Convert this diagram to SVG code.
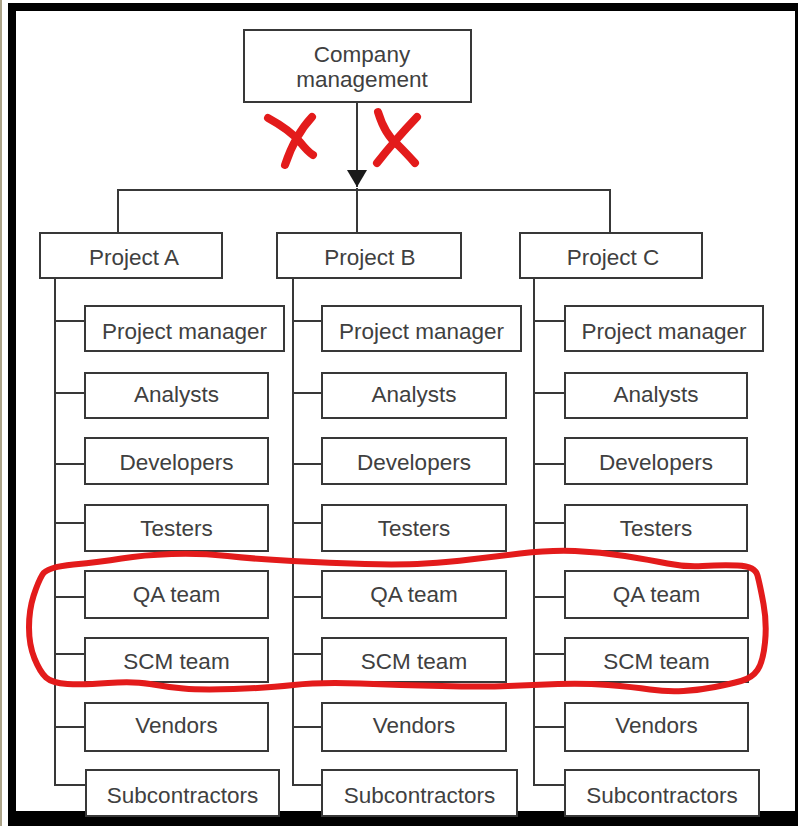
<svg xmlns="http://www.w3.org/2000/svg" width="798" height="826" viewBox="0 0 798 826">
<style>
.box{fill:#fff;stroke:#383838;stroke-width:2}
.lbl{font-family:"Liberation Sans",Arial,sans-serif;font-size:22.5px;fill:#404040;text-anchor:middle}
.con{fill:none;stroke:#383838;stroke-width:2}
.red{fill:none;stroke:#e31b1b;stroke-linecap:round;stroke-linejoin:round}
</style>
<defs>
<marker id="arr" viewBox="0 0 17 20" refX="17" refY="10" markerWidth="17" markerHeight="20" markerUnits="userSpaceOnUse" orient="auto">
<path d="M0,0 L17,10 L0,20 z" fill="#1a1a1a"/>
</marker>
</defs>
<rect x="0" y="0" width="798" height="826" fill="#fff"/>
<line x1="1" y1="0" x2="1" y2="826" stroke="#8f8460" stroke-width="1.5"/>
<path d="M8,3 H798 V826 H8 Z M16,11 V811 H795 V11 Z" fill="#000" fill-rule="evenodd"/>

<g id="connectors">
<path class="con" d="M357,102 V187" marker-end="url(#arr)"/>
<path class="con" d="M118,233 V190 H610 V233 M357,188 V233"/>
<path class="con" d="M55,278 V785 H86 M55,321 H85 M55,393 H85 M55,464 H85 M55,523 H85 M55,597 H85 M55,654 H85 M55,727 H85"/>
<path class="con" d="M293,278 V785 H322 M293,321 H322 M293,393 H322 M293,464 H322 M293,523 H322 M293,597 H322 M293,654 H322 M293,727 H322"/>
<path class="con" d="M534,278 V785 H565 M534,321 H565 M534,393 H565 M534,464 H565 M534,523 H565 M534,597 H565 M534,654 H565 M534,727 H565"/>
</g>

<g id="company"><rect class="box" x="244" y="30" width="227" height="72"/><text class="lbl" x="362" y="62">Company</text><text class="lbl" x="362" y="87">management</text></g>

<g id="projectA"><rect class="box" x="40" y="233" width="182" height="45"/><text class="lbl" x="134" y="265">Project A</text></g>
<g id="projectB"><rect class="box" x="277" y="233" width="184" height="45"/><text class="lbl" x="370" y="265">Project B</text></g>
<g id="projectC"><rect class="box" x="520" y="233" width="182" height="45"/><text class="lbl" x="613" y="265">Project C</text></g>

<g id="A-pm"><rect class="box" x="85" y="306" width="199" height="45"/><text class="lbl" x="184.5" y="339">Project manager</text></g>
<g id="A-analysts"><rect class="box" x="85" y="373" width="183" height="45"/><text class="lbl" x="176.5" y="402">Analysts</text></g>
<g id="A-developers"><rect class="box" x="85" y="438" width="183" height="46"/><text class="lbl" x="176.5" y="470">Developers</text></g>
<g id="A-testers"><rect class="box" x="85" y="505" width="183" height="46"/><text class="lbl" x="176.5" y="536">Testers</text></g>
<g id="A-qa"><rect class="box" x="85" y="571" width="183" height="47"/><text class="lbl" x="176.5" y="602">QA team</text></g>
<g id="A-scm"><rect class="box" x="85" y="638" width="183" height="44"/><text class="lbl" x="176.5" y="669">SCM team</text></g>
<g id="A-vendors"><rect class="box" x="85" y="703" width="183" height="48"/><text class="lbl" x="176.5" y="733">Vendors</text></g>
<g id="A-sub"><rect class="box" x="86" y="770" width="193" height="46"/><text class="lbl" x="182.5" y="803">Subcontractors</text></g>

<g id="B-pm"><rect class="box" x="322" y="306" width="199" height="45"/><text class="lbl" x="421.5" y="339">Project manager</text></g>
<g id="B-analysts"><rect class="box" x="322" y="373" width="184" height="45"/><text class="lbl" x="414" y="402">Analysts</text></g>
<g id="B-developers"><rect class="box" x="322" y="438" width="184" height="46"/><text class="lbl" x="414" y="470">Developers</text></g>
<g id="B-testers"><rect class="box" x="322" y="505" width="184" height="46"/><text class="lbl" x="414" y="536">Testers</text></g>
<g id="B-qa"><rect class="box" x="322" y="571" width="184" height="47"/><text class="lbl" x="414" y="602">QA team</text></g>
<g id="B-scm"><rect class="box" x="322" y="638" width="184" height="44"/><text class="lbl" x="414" y="669">SCM team</text></g>
<g id="B-vendors"><rect class="box" x="322" y="703" width="184" height="48"/><text class="lbl" x="414" y="733">Vendors</text></g>
<g id="B-sub"><rect class="box" x="322" y="770" width="195" height="46"/><text class="lbl" x="419.5" y="803">Subcontractors</text></g>

<g id="C-pm"><rect class="box" x="565" y="306" width="198" height="45"/><text class="lbl" x="664" y="339">Project manager</text></g>
<g id="C-analysts"><rect class="box" x="565" y="373" width="182" height="45"/><text class="lbl" x="656" y="402">Analysts</text></g>
<g id="C-developers"><rect class="box" x="565" y="438" width="182" height="46"/><text class="lbl" x="656" y="470">Developers</text></g>
<g id="C-testers"><rect class="box" x="565" y="505" width="182" height="46"/><text class="lbl" x="656" y="536">Testers</text></g>
<g id="C-qa"><rect class="box" x="565" y="571" width="183" height="47"/><text class="lbl" x="656.5" y="602">QA team</text></g>
<g id="C-scm"><rect class="box" x="565" y="638" width="183" height="44"/><text class="lbl" x="656.5" y="669">SCM team</text></g>
<g id="C-vendors"><rect class="box" x="565" y="703" width="183" height="48"/><text class="lbl" x="656.5" y="733">Vendors</text></g>
<g id="C-sub"><rect class="box" x="565" y="770" width="194" height="46"/><text class="lbl" x="662" y="803">Subcontractors</text></g>

<g id="annotations">
<path class="red" stroke-width="8" d="M268,118 Q290,130 300,142 Q308,152 313,155 M312,117 Q295,135 285,165"/>
<path class="red" stroke-width="8" d="M378,112 Q385,135 398,145 Q408,155 415,163 M417,117 Q395,140 377,163"/>
<path class="red" stroke-width="6" d="M73.5,564.5 Q100,562 121.5,558.5 Q143,555 171.5,554 Q200,553 227.5,556 Q255,559 292.5,561 Q330,563 365,564 Q400,565 425,563.5 Q450,562 470,559.5 Q490,557 520,553.5 Q550,550 575,551 Q600,552 625,556 Q650,560 667.5,563.5 Q685,567 702.5,566 Q720,565 737.5,565.5 Q755,566 757.5,575.5 Q760,585 763.5,604 Q767,623 765,642.5 Q763,662 757.5,670 Q752,678 741,681 Q730,684 715,687 Q700,690 683.5,691 Q667,692 650,689.5 Q633,687 608,685 Q583,683 558,684 Q533,685 508,686 Q483,687 441.5,686 Q400,685 360,683.5 Q320,682 293.5,685 Q267,688 233.5,689 Q200,690 183.5,688.5 Q167,687 150,684 Q133,681 108,683 Q83,685 67.5,684 Q52,683 46,677.5 Q40,672 34.5,658.5 Q29,645 29,627.5 Q29,610 33.5,596 Q38,582 42.5,574.5 Q47,567 73.5,564.5 Z"/>
</g>
</svg>
